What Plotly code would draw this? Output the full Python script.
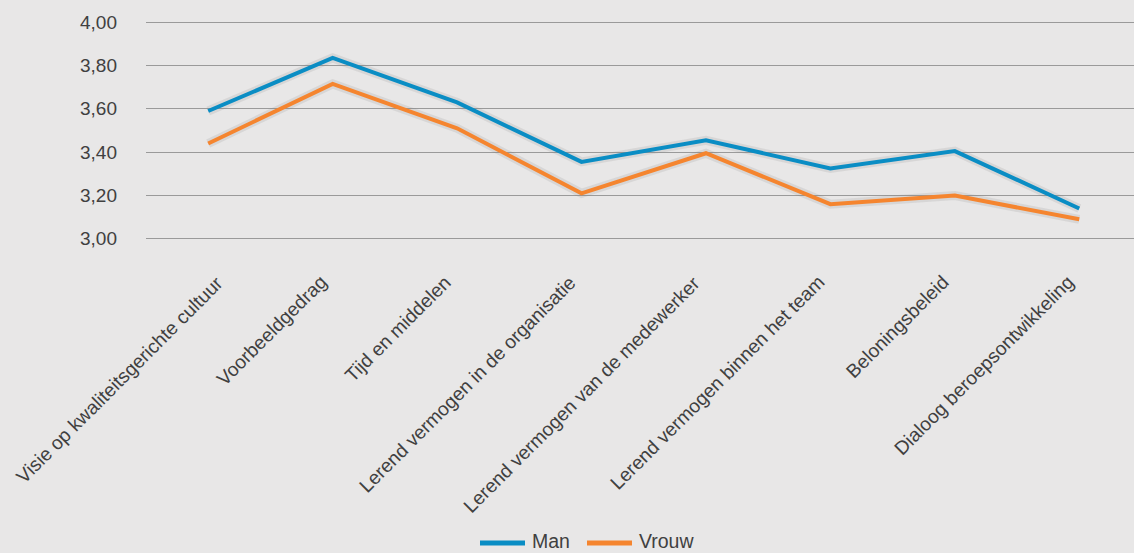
import plotly.graph_objects as go

categories = [
    "Visie op kwaliteitsgerichte cultuur",
    "Voorbeeldgedrag",
    "Tijd en middelen",
    "Lerend vermogen in de organisatie",
    "Lerend vermogen van de medewerker",
    "Lerend vermogen binnen het team",
    "Beloningsbeleid",
    "Dialoog beroepsontwikkeling",
]
man = [3.59, 3.835, 3.63, 3.355, 3.455, 3.325, 3.405, 3.14]
vrouw = [3.44, 3.715, 3.51, 3.21, 3.395, 3.16, 3.20, 3.09]
y_ticks = [3.0, 3.2, 3.4, 3.6, 3.8, 4.0]
y_labels = ["3,00", "3,20", "3,40", "3,60", "3,80", "4,00"]
series_names = ["Man", "Vrouw"]

BLUE = "#0a8dc4"
ORANGE = "#f5852f"
BG = "#e8e7e7"
TXT = "#404040"
FONT = "Liberation Sans, Arial, Helvetica, sans-serif"

W, H = 1134, 553
ML, MR, MT, MB = 146, 0, 20, 312
PW, PH = W - ML - MR, H - MT - MB


def px(x):
    return (x - ML) / PW


def py(y):
    return (H - MB - y) / PH


fig = go.Figure()
# soft shadows
for vals in (man, vrouw):
    fig.add_trace(go.Scatter(x=categories, y=vals, mode="lines",
                             line=dict(color="rgba(120,120,120,0.15)", width=9),
                             hoverinfo="skip", showlegend=False))
fig.add_trace(go.Scatter(x=categories, y=man, mode="lines", name=series_names[0],
                         line=dict(color=BLUE, width=4), showlegend=False))
fig.add_trace(go.Scatter(x=categories, y=vrouw, mode="lines", name=series_names[1],
                         line=dict(color=ORANGE, width=4), showlegend=False))

# rotated category labels (first one nudged right to stay inside the canvas)
for i, cat in enumerate(categories):
    fig.add_annotation(x=cat, xref="x", y=0, yref="paper", text=cat,
                       textangle=-45, showarrow=False, xanchor="right", yanchor="top",
                       xshift=(22 if i == 0 else 1), yshift=-28,
                       font=dict(family=FONT, size=19.2, color=TXT))

# legend drawn manually (longer swatches, like the reference)
LEG_Y = 541
legend_items = [(series_names[0], BLUE, 480), (series_names[1], ORANGE, 587)]
for name, color, x0 in legend_items:
    fig.add_shape(type="line", xref="paper", yref="paper",
                  x0=px(x0), x1=px(x0 + 45), y0=py(LEG_Y + 2), y1=py(LEG_Y + 2),
                  line=dict(color=color, width=5))
    fig.add_annotation(x=px(x0 + 51), y=py(LEG_Y), xref="paper", yref="paper",
                       text=name, showarrow=False, xanchor="left", yanchor="middle",
                       borderpad=0,
                       font=dict(family=FONT, size=19.5, color=TXT))

fig.update_layout(
    width=W, height=H,
    paper_bgcolor=BG, plot_bgcolor=BG,
    margin=dict(l=ML, r=MR, t=MT, b=MB, autoexpand=False),
    font=dict(family=FONT, size=19, color=TXT),
    showlegend=False,
    xaxis=dict(type="category", range=[-0.5, 7.44], showgrid=False, zeroline=False,
               showline=False, ticks="", showticklabels=False, automargin=False),
    yaxis=dict(range=[2.99, 4.01], tickvals=y_ticks, ticktext=y_labels,
               showgrid=True, gridcolor="#9a9a9a", gridwidth=1.3, zeroline=False,
               showline=False, ticks="", ticklabelstandoff=28, automargin=False,
               tickfont=dict(family=FONT, size=19, color=TXT)),
)

fig.write_html("out.html", config={"displayModeBar": False},
               post_script="document.body.style.margin='0px';document.body.style.padding='0px';")
